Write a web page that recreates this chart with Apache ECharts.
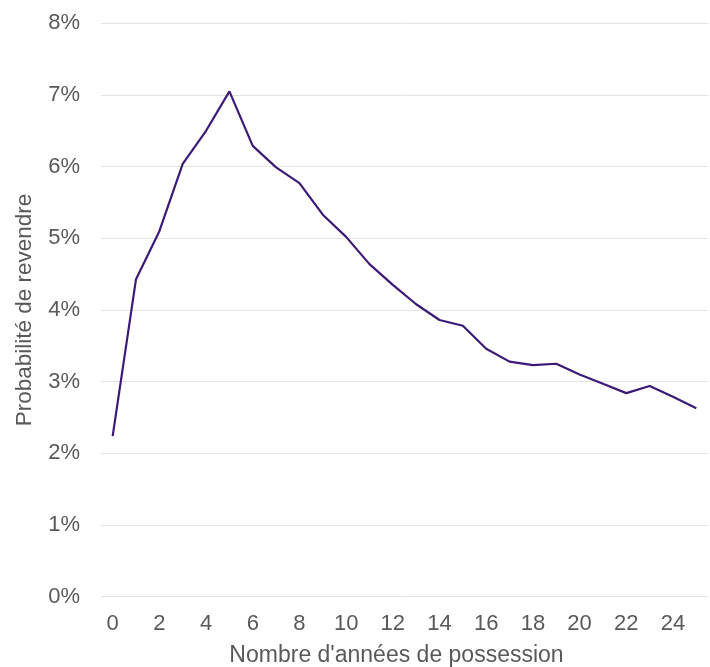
<!DOCTYPE html>
<html>
<head>
<meta charset="utf-8">
<script src="https://cdn.jsdelivr.net/npm/echarts@6/dist/echarts.min.js"></script>
<style>
html,body{margin:0;padding:0;background:#fff;}
#chart{width:710px;height:667px;}
</style>
</head>
<body>
<div id="chart"></div>
<script>
const years = ['0','1','2','3','4','5','6','7','8','9','10','11','12','13','14','15','16','17','18','19','20','21','22','23','24','25'];
const probabilite = [2.24, 4.43, 5.10, 6.04, 6.50, 7.05, 6.29, 5.99, 5.77, 5.33, 5.02, 4.64, 4.35, 4.08, 3.86, 3.78, 3.46, 3.28, 3.23, 3.25, 3.10, 2.97, 2.84, 2.94, 2.79, 2.63];
const xAxisName = "Nombre d'années de possession";
const yAxisName = 'Probabilité de revendre';

const chart = echarts.init(document.getElementById('chart'));
const font = 'Liberation Sans, Arial, sans-serif';
chart.setOption({
  animation: false,
  grid: { left: 101, right: 2, top: 23.3, bottom: 70.3, containLabel: false, outerBoundsMode: 'none' },
  xAxis: {
    type: 'category',
    data: years,
    boundaryGap: true,
    axisLine: { show: false },
    axisTick: { show: false },
    axisLabel: { interval: 1, color: '#595959', fontSize: 22, fontFamily: font, margin: 16 },
    name: xAxisName,
    nameLocation: 'middle',
    nameGap: 47,
    nameTextStyle: { color: '#595959', fontSize: 23, fontFamily: font, padding: [0, 16, 0, 0] }
  },
  yAxis: {
    type: 'value',
    min: 0, max: 8, interval: 1,
    axisLine: { show: false },
    axisTick: { show: false },
    splitLine: { lineStyle: { color: '#E4E4E4', width: 1 } },
    axisLabel: { formatter: '{value}%', color: '#595959', fontSize: 22, fontFamily: font, margin: 21 },
    name: yAxisName,
    nameLocation: 'middle',
    nameGap: 65,
    nameTextStyle: { color: '#595959', fontSize: 22.5, fontFamily: font }
  },
  series: [{
    type: 'line',
    data: probabilite,
    symbol: 'none',
    lineStyle: { color: '#3C1A78', width: 2.2 }
  }]
});
</script>
</body>
</html>
